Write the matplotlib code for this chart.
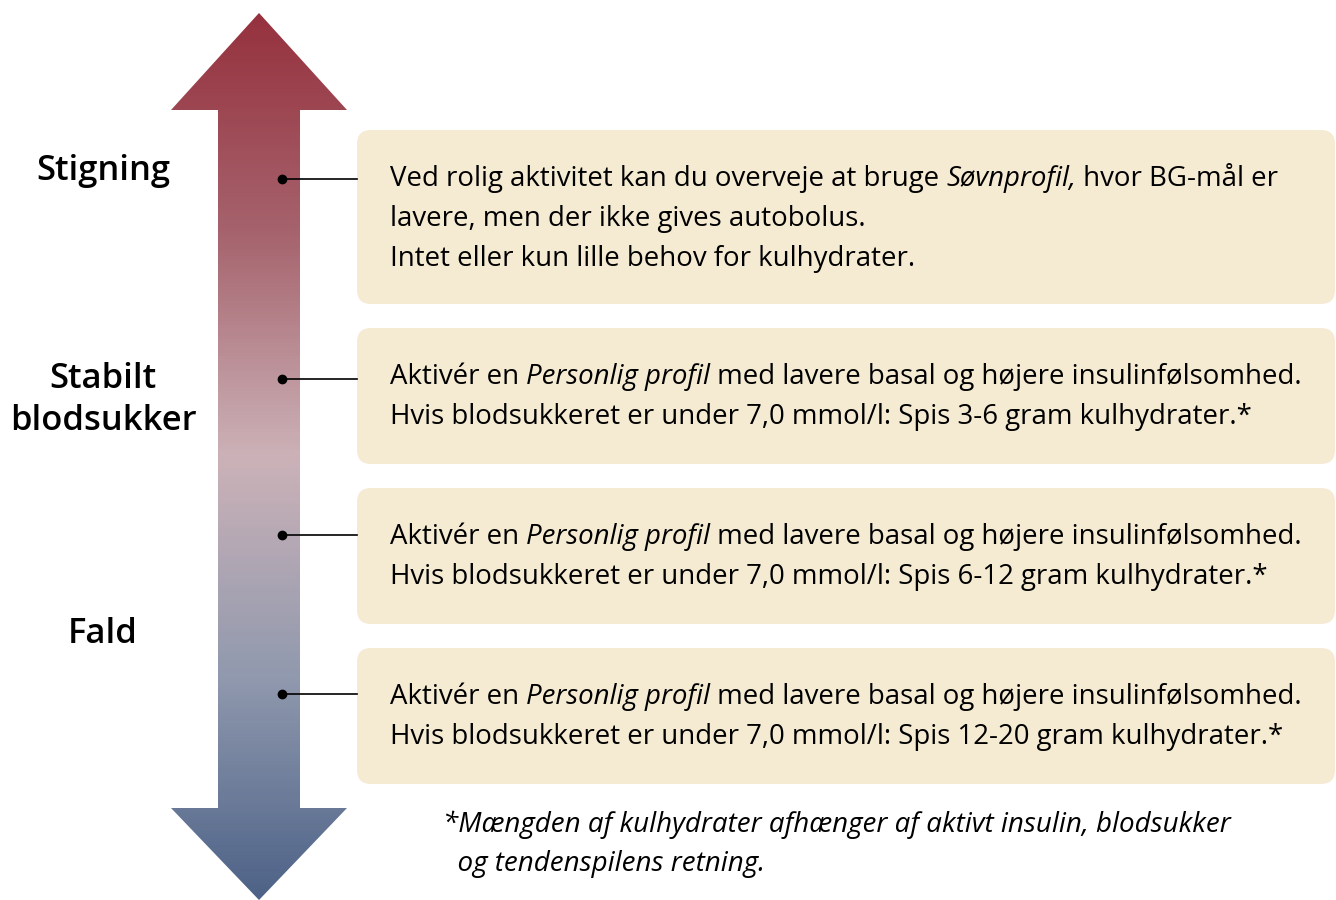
import numpy as np
import matplotlib
matplotlib.use('Agg')
import matplotlib.pyplot as plt
from matplotlib.patches import Polygon, FancyBboxPatch
from matplotlib.colors import LinearSegmentedColormap

plt.rcParams['font.family'] = ['Open Sans', 'DejaVu Sans']

# Text content
side_labels = ['Stigning', 'Stabilt\nblodsukker', 'Fald']
side_label_y = [171, 400, 634]

box_texts = [
    [[('Ved rolig aktivitet kan du overveje at bruge ', False), ('Søvnprofil,', True), (' hvor BG-mål er', False)],
     [('lavere, men der ikke gives autobolus.', False)],
     [('Intet eller kun lille behov for kulhydrater.', False)]],
    [[('Aktivér en ', False), ('Personlig profil', True), (' med lavere basal og højere insulinfølsomhed.', False)],
     [('Hvis blodsukkeret er under 7,0 mmol/l: Spis 3-6 gram kulhydrater.*', False)]],
    [[('Aktivér en ', False), ('Personlig profil', True), (' med lavere basal og højere insulinfølsomhed.', False)],
     [('Hvis blodsukkeret er under 7,0 mmol/l: Spis 6-12 gram kulhydrater.*', False)]],
    [[('Aktivér en ', False), ('Personlig profil', True), (' med lavere basal og højere insulinfølsomhed.', False)],
     [('Hvis blodsukkeret er under 7,0 mmol/l: Spis 12-20 gram kulhydrater.*', False)]],
]
footnote_lines = ['*Mængden af kulhydrater afhænger af aktivt insulin, blodsukker',
                  '  og tendenspilens retning.']

# Layout (pixels)
box_top = [130, 328, 488, 648]
box_bottom = [304, 464, 624, 784]
dot_y = [179, 379, 535, 694]
grad_colors = ['#96313e', '#a6646e', '#ccb2b8', '#9099ae', '#4d6287']

W, H = 1336, 900
fig = plt.figure(figsize=(W / 100, H / 100), dpi=100)
ax = fig.add_axes([0, 0, 1, 1])
ax.set_xlim(0, W)
ax.set_ylim(H, 0)
ax.axis('off')

# Gradient double arrow
arrow = Polygon([(259, 13), (347, 110), (300, 110), (300, 808), (347, 808),
                 (259, 900), (171, 808), (218, 808), (218, 110), (171, 110)],
                closed=True, facecolor='none', edgecolor='none')
ax.add_patch(arrow)
cmap = LinearSegmentedColormap.from_list('arrow', grad_colors)
grad = np.linspace(0, 1, 256).reshape(-1, 1)
im = ax.imshow(grad, cmap=cmap, aspect='auto', extent=(171, 347, 900, 13),
               origin='upper', zorder=1)
im.set_clip_path(arrow)

# Boxes
for top, bot in zip(box_top, box_bottom):
    ax.add_patch(FancyBboxPatch((357 + 14, top + 14), 1335 - 357 - 28, bot - top - 28,
                                boxstyle='round,pad=14', facecolor='#f5ebd3',
                                edgecolor='none', zorder=1))

# Connectors
for y in dot_y:
    ax.plot([282, 357], [y, y], color='black', lw=1.2, zorder=3)
    ax.plot(282, y, 'o', color='black', ms=6, zorder=4)

# Side labels
for lab, y in zip(side_labels, side_label_y):
    ax.text(103, y, lab, ha='center', va='center', fontsize=24.8, fontweight='semibold',
            linespacing=1.33)

fig.canvas.draw()
renderer = fig.canvas.get_renderer()


def rich_line(x, y, segments, size=19.9):
    for txt, ital in segments:
        t = ax.text(x, y, txt, fontsize=size, style='italic' if ital else 'normal',
                    ha='left', va='baseline')
        bb = t.get_window_extent(renderer=renderer)
        x += bb.width


for top, lines in zip(box_top, box_texts):
    for i, segs in enumerate(lines):
        rich_line(390, top + 56 + i * 40, segs)

for i, line in enumerate(footnote_lines):
    ax.text(443, 832 + i * 39, line, fontsize=20, style='italic', ha='left', va='baseline')

fig.savefig('out.png', dpi=100)
